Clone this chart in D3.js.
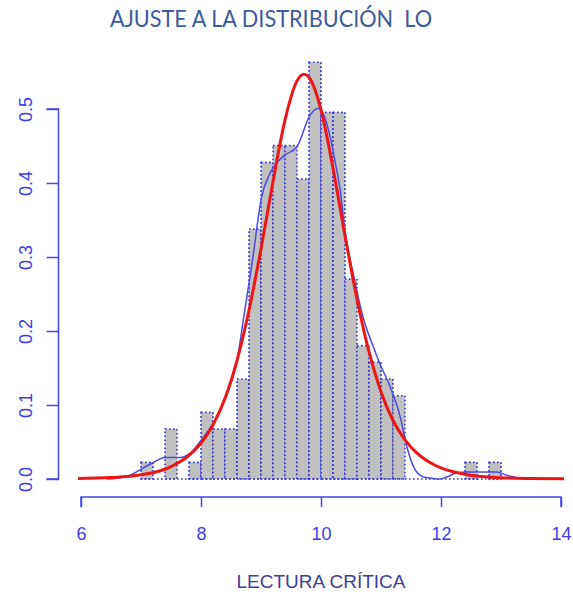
<!DOCTYPE html>
<html>
<head>
<meta charset="utf-8">
<script src="https://cdn.jsdelivr.net/npm/d3@7"></script>
<style>
  html, body { margin: 0; padding: 0; background: #ffffff; }
  svg { display: block; }
</style>
</head>
<body>
<svg id="chart" width="573" height="595"></svg>
<script>
// Histogram: bins of width 0.2 starting at 7.0, values are densities
const binStart = 7.0;
const binWidth = 0.2;
const binDensity = [
  0.0225, 0, 0.0676, 0, 0.0225,
  0.0901, 0.0676, 0.0676, 0.1351, 0.3378,
  0.4279, 0.4505, 0.4505, 0.4054, 0.5631,
  0.4955, 0.4955, 0.2703, 0.1802, 0.1577,
  0.1351, 0.1126, 0, 0, 0,
  0, 0, 0.0225, 0, 0.0225
];

// Kernel density estimate (blue)
const kdeX = [6.43, 6.6, 6.82, 7.04, 7.2, 7.4, 7.65, 7.82, 8.0, 8.2, 8.4, 8.6, 8.73, 8.85, 9.01, 9.15, 9.37, 9.6, 9.82, 9.96, 10.04, 10.15, 10.23, 10.32, 10.4, 10.54, 10.7, 10.87, 10.98, 11.15, 11.32, 11.43, 11.54, 11.7, 11.85, 11.98, 12.1, 12.26, 12.43, 12.93, 13.1, 13.32, 13.57];
const kdeY = [0.000, 0.001, 0.005, 0.015, 0.022, 0.029, 0.029, 0.035, 0.052, 0.075, 0.107, 0.160, 0.228, 0.291, 0.381, 0.413, 0.436, 0.449, 0.492, 0.501, 0.493, 0.463, 0.431, 0.390, 0.335, 0.276, 0.219, 0.179, 0.156, 0.125, 0.084, 0.044, 0.017, 0.003, 0.001, 0.000, 0.003, 0.008, 0.0095, 0.0095, 0.005, 0.001, 0.000];

// Fitted logistic density (red)
const fitX = [5.95, 6.5, 7.0, 7.5, 8.0, 8.2, 8.4, 8.6, 8.8, 9.0, 9.2, 9.4, 9.6, 9.72, 9.8, 10.0, 10.2, 10.4, 10.6, 10.8, 11.0, 11.2, 11.4, 11.6, 11.8, 12.0, 12.5, 13.0, 13.5, 14.05];
const fitY = [0.0006, 0.0019, 0.0057, 0.0167, 0.0485, 0.073, 0.109, 0.160, 0.228, 0.311, 0.402, 0.485, 0.538, 0.547, 0.543, 0.499, 0.420, 0.329, 0.243, 0.172, 0.118, 0.079, 0.053, 0.035, 0.023, 0.015, 0.005, 0.0017, 0.0006, 0.0002];

const xTicks = [6, 8, 10, 12, 14];
const yTicks = [0, 0.1, 0.2, 0.3, 0.4, 0.5];

const titleText = "AJUSTE A LA DISTRIBUCIÓN\u00a0\u00a0LO";
const xLabel = "LECTURA CRÍTICA";

const svg = d3.select("#chart");
const x = d3.scaleLinear().domain([6, 14]).range([81, 561]);
const y = d3.scaleLinear().domain([0, 0.5]).range([479, 109]);

const axisBlue = "#4646e4";
const barBorder = "#3030d8";
const dotted = "1.6,2.4";

// Title
svg.append("text")
  .attr("x", 271).attr("y", 27)
  .attr("text-anchor", "middle")
  .attr("font-family", "Lato, 'Open Sans', sans-serif")
  .attr("font-size", 23)
  .attr("textLength", 322)
  .attr("lengthAdjust", "spacingAndGlyphs")
  .attr("fill", "#3b5c9c")
  .text(titleText);

// Bars
const bins = binDensity.map((d, i) => ({ x0: binStart + i * binWidth, x1: binStart + (i + 1) * binWidth, d }));
const barG = svg.append("g");
barG.selectAll("rect")
  .data(bins.filter(b => b.d > 0))
  .join("rect")
  .attr("x", b => x(b.x0))
  .attr("y", b => y(b.d))
  .attr("width", b => x(b.x1) - x(b.x0))
  .attr("height", b => y(0) - y(b.d))
  .attr("fill", "#c0c0c0")
  .attr("stroke", barBorder)
  .attr("stroke-width", 1.6)
  .attr("stroke-dasharray", dotted);

// Dotted base line of the histogram (zero-height bins included)
barG.append("line")
  .attr("x1", x(bins[0].x0)).attr("x2", x(bins[bins.length - 1].x1))
  .attr("y1", y(0)).attr("y2", y(0))
  .attr("stroke", barBorder)
  .attr("stroke-width", 1.6)
  .attr("stroke-dasharray", dotted);

// Density curves
const line = d3.line().x(p => x(p[0])).y(p => y(p[1])).curve(d3.curveMonotoneX);
svg.append("path")
  .attr("d", line(kdeX.map((v, i) => [v, kdeY[i]])))
  .attr("fill", "none")
  .attr("stroke", "#4a4ae6")
  .attr("stroke-width", 1.5);
svg.append("path")
  .attr("d", line(fitX.map((v, i) => [v, fitY[i]])))
  .attr("fill", "none")
  .attr("stroke", "#ee1515")
  .attr("stroke-width", 3);

// X axis
const xAxis = svg.append("g").attr("transform", "translate(0,497)")
  .call(d3.axisBottom(x).tickValues(xTicks).tickSize(10).tickPadding(20).tickFormat(d3.format("d")));
xAxis.select(".domain").attr("stroke", axisBlue).attr("stroke-width", 1.5)
  .attr("d", `M${x(6)},10V0H${x(14)}V10`);
xAxis.selectAll(".tick line").attr("stroke", axisBlue).attr("stroke-width", 1.5);
xAxis.selectAll(".tick text")
  .attr("fill", "#3c3ce6")
  .attr("font-family", "'Liberation Sans', Arial, sans-serif")
  .attr("font-size", 18);

// Y axis
const yAxis = svg.append("g").attr("transform", "translate(58.5,0)")
  .call(d3.axisLeft(y).tickValues(yTicks).tickSize(12).tickFormat(d3.format(".1f")));
yAxis.select(".domain").attr("stroke", axisBlue).attr("stroke-width", 1.5)
  .attr("d", `M-12,${y(0.5)}H0V${y(0)}H-12`);
yAxis.selectAll(".tick line").attr("stroke", axisBlue).attr("stroke-width", 1.5);
yAxis.selectAll(".tick text")
  .attr("fill", "#3c3ce6")
  .attr("font-family", "'Liberation Sans', Arial, sans-serif")
  .attr("font-size", 18)
  .attr("text-anchor", "middle")
  .attr("dy", 0)
  .attr("x", 0)
  .attr("transform", "translate(-27,0) rotate(-90)");

// X axis title
svg.append("text")
  .attr("x", 321).attr("y", 588)
  .attr("text-anchor", "middle")
  .attr("font-family", "'Liberation Sans', Arial, sans-serif")
  .attr("font-size", 19)
  .attr("fill", "#3e3e96")
  .text(xLabel);
</script>
</body>
</html>
